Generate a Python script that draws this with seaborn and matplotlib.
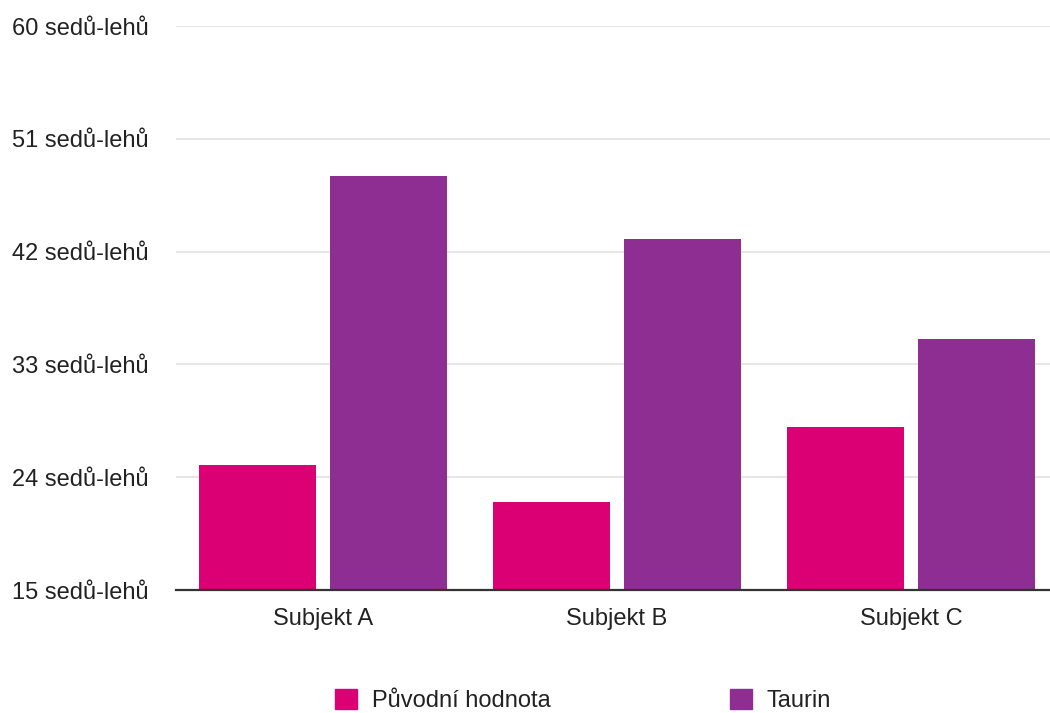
import matplotlib
matplotlib.use("Agg")
import matplotlib.pyplot as plt
import matplotlib.ticker as mticker
import pandas as pd
import seaborn as sns

# data
subjects = ["Subjekt A", "Subjekt B", "Subjekt C"]
puvodni = [25, 22, 28]
taurin = [48, 43, 35]
series_names = ["Původní hodnota", "Taurin"]
y_ticks = [15, 24, 33, 42, 51, 60]
colors = ["#DB0073", "#8E2D92"]

df = pd.DataFrame({
    "subjekt": subjects * 2,
    "serie": [series_names[0]] * 3 + [series_names[1]] * 3,
    "hodnota": puvodni + taurin,
})

sns.set_style("white")
plt.rcParams["font.family"] = ["Liberation Sans", "DejaVu Sans"]
fs = 17

fig = plt.figure(figsize=(10.5, 7.13), dpi=100)
ax = fig.add_axes([0.1676, 0.1725, 0.84, 0.791])

sns.barplot(data=df, x="subjekt", y="hodnota", hue="serie",
            palette=colors, width=0.89, gap=0.1, ax=ax,
            saturation=1, legend=False, linewidth=0)

ax.set_ylim(15, 60)
ax.set_yticks(y_ticks)
ax.yaxis.set_major_formatter(mticker.FuncFormatter(lambda v, p: f"{int(v)} sedů-lehů"))
ax.grid(axis="y", color="#e2e2e2", linewidth=1.2)
ax.set_axisbelow(True)
for s in ["top", "right", "left"]:
    ax.spines[s].set_visible(False)
ax.spines["bottom"].set_color("#333333")
ax.spines["bottom"].set_linewidth(1.6)
ax.spines["bottom"].set_zorder(5)

ax.set_xlabel("")
ax.set_ylabel("")
ax.tick_params(axis="y", length=0, pad=118, labelsize=fs, labelcolor="#222222")
ax.tick_params(axis="x", length=0, pad=13, labelsize=fs, labelcolor="#222222")
for lbl in ax.get_yticklabels():
    lbl.set_horizontalalignment("left")

handles = [plt.Rectangle((0, 0), 1, 1, color=c) for c in colors]
fig.legend(handles, series_names, loc="center left",
           bbox_to_anchor=(0.319, 0.018), ncol=2, frameon=False,
           fontsize=fs, handlelength=0.95, handleheight=0.95,
           handletextpad=0.6, columnspacing=7.6, borderpad=0,
           borderaxespad=0, labelcolor="#222222")

fig.savefig("out.png", dpi=100)
